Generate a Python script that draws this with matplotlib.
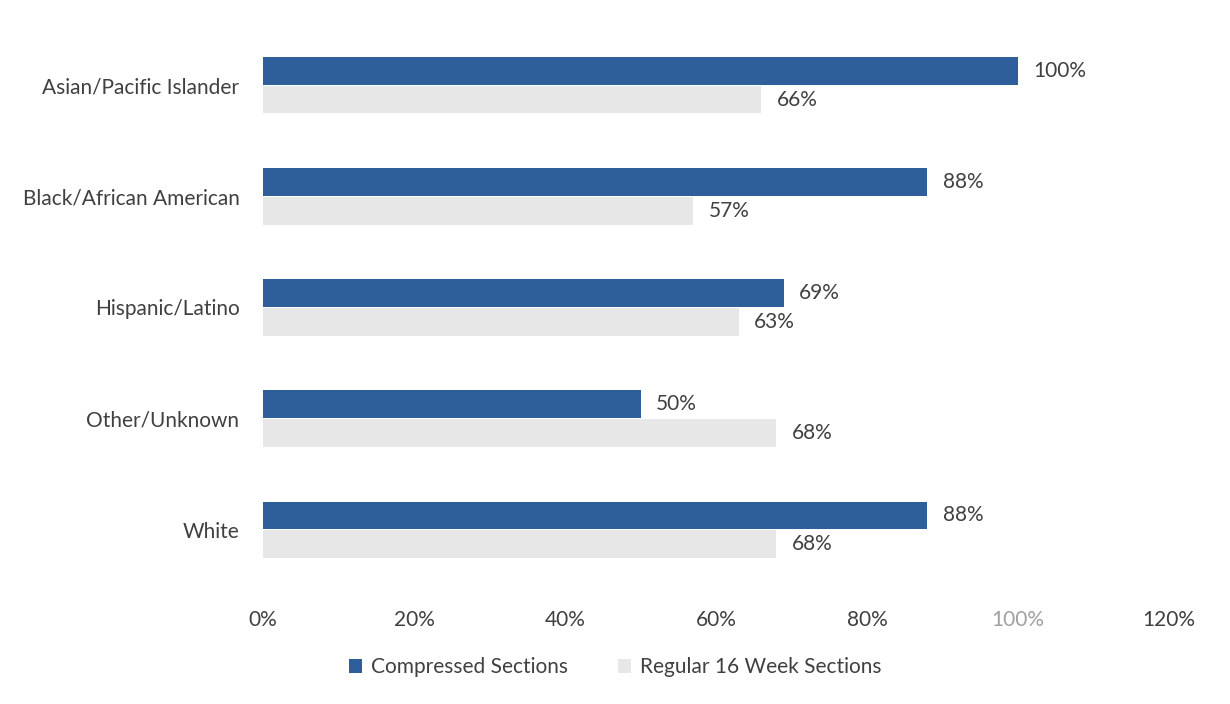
import matplotlib
matplotlib.use("Agg")
import matplotlib.pyplot as plt
import numpy as np

categories = ["Asian/Pacific Islander", "Black/African American", "Hispanic/Latino", "Other/Unknown", "White"]
compressed = [100, 88, 69, 50, 88]
regular = [66, 57, 63, 68, 68]
xticks = [0, 20, 40, 60, 80, 100, 120]
series_names = ["Compressed Sections", "Regular 16 Week Sections"]

plt.rcParams['font.family'] = ['Lato', 'DejaVu Sans']
text_color = '#404040'
c_blue = '#2F5F9A'
c_gray = '#E6E7E6'
fs = 15

fig = plt.figure(figsize=(12.3, 7.04), dpi=100)
ax = fig.add_axes([263/1230, 1-585.5/704, (1169-263)/1230, 556/704])

y = np.arange(len(categories))
h = 0.25
off = 0.13
ax.barh(y - off, compressed, height=h, color=c_blue, label=series_names[0])
ax.barh(y + off, regular, height=h, color=c_gray, label=series_names[1])

for i in range(len(categories)):
    ax.annotate(f"{compressed[i]}%", (compressed[i], y[i] - off), xytext=(11, 0),
                textcoords='offset points', va='center', ha='left', fontsize=fs, color=text_color)
    ax.annotate(f"{regular[i]}%", (regular[i], y[i] + off), xytext=(11, 0),
                textcoords='offset points', va='center', ha='left', fontsize=fs, color=text_color)

ax.set_xlim(0, 120)
ax.set_ylim(len(categories) - 0.5, -0.5)
ax.set_yticks(y)
ax.set_yticklabels(categories, fontsize=fs, color=text_color)
ax.set_xticks(xticks)
ax.set_xticklabels([f"{t}%" for t in xticks], fontsize=fs, color=text_color)
ax.get_xticklabels()[5].set_color('#A0A0A0')
ax.tick_params(axis='both', length=0)
ax.tick_params(axis='x', pad=18)
ax.tick_params(axis='y', pad=17)
for s in ax.spines.values():
    s.set_visible(False)

fig.legend(loc='center', bbox_to_anchor=(615/1230, 1-667/704), ncol=2, frameon=False,
           fontsize=fs, handlelength=0.65, handleheight=0.65, columnspacing=2.4,
           labelcolor=text_color, handletextpad=0.4)

fig.savefig("out.png", dpi=100)
